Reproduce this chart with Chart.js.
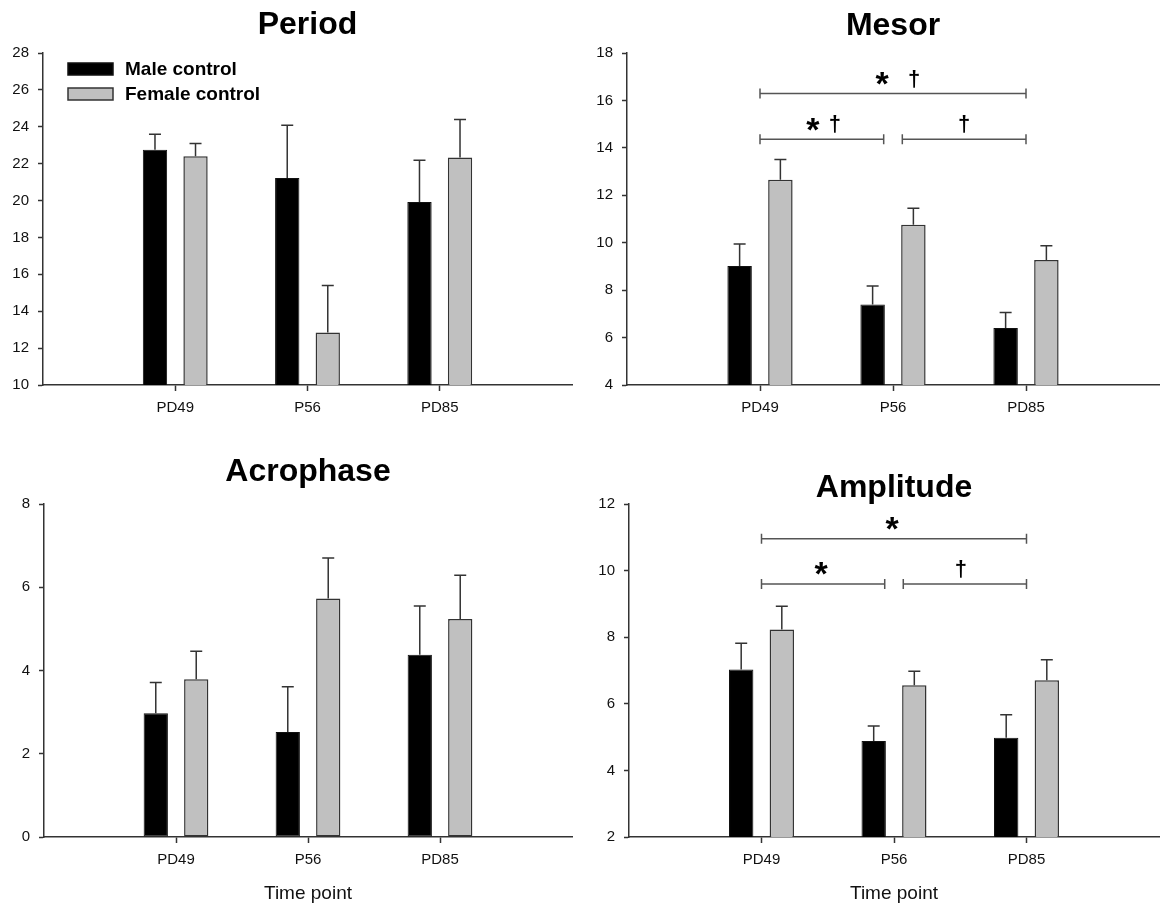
<!DOCTYPE html>
<html>
<head>
<meta charset="utf-8">
<script src="https://cdn.jsdelivr.net/npm/chart.js@4.4.1/dist/chart.umd.min.js"></script>
<style>
  html, body { margin: 0; padding: 0; background: #fff; }
  #wrap { position: relative; width: 1167px; height: 908px; }
  .panel { position: absolute; }
</style>
</head>
<body>
<div id="wrap">
  <div class="panel" style="left:0;top:0;width:580px;height:450px"><canvas id="period"></canvas></div>
  <div class="panel" style="left:580px;top:0;width:587px;height:450px"><canvas id="mesor"></canvas></div>
  <div class="panel" style="left:0;top:450px;width:580px;height:458px"><canvas id="acrophase"></canvas></div>
  <div class="panel" style="left:580px;top:450px;width:587px;height:458px"><canvas id="amplitude"></canvas></div>
</div>
<script>
// categories and series
const timePoints = ["PD49", "P56", "PD85"];
const seriesNames = ["Male control", "Female control"];

// values (mean) and upper error bars
const periodMale = [22.76, 21.22, 19.92];
const periodMaleErr = [0.83, 2.86, 2.26];
const periodFemale = [22.4, 12.85, 22.34];
const periodFemaleErr = [0.7, 2.55, 2.06];

const mesorMale = [9.02, 7.39, 6.4];
const mesorMaleErr = [0.93, 0.78, 0.66];
const mesorFemale = [12.65, 10.76, 9.27];
const mesorFemaleErr = [0.86, 0.69, 0.6];

const acroMale = [2.97, 2.52, 4.38];
const acroMaleErr = [0.74, 1.09, 1.17];
const acroFemale = [3.79, 5.73, 5.24];
const acroFemaleErr = [0.67, 0.97, 1.05];

const ampMale = [7.03, 4.88, 4.98];
const ampMaleErr = [0.79, 0.45, 0.69];
const ampFemale = [8.23, 6.56, 6.71];
const ampFemaleErr = [0.7, 0.42, 0.61];

// y axis ranges [min, max, step]
const periodRange = [10, 28, 2];
const mesorRange = [4, 18, 2];
const acroRange = [0, 8, 2];
const ampRange = [2, 12, 2];

// significance brackets (category index 1..3 = PD49..PD85)
const mesorSig = [
  { from: 1, to: 3, level: 16.29, marks: ["*", "\u2020"], dx: [-11, 21] },
  { from: 1, to: 1.93, level: 14.36, marks: ["*", "\u2020"], dx: [-9, 13] },
  { from: 2.07, to: 3, level: 14.36, marks: ["\u2020"], dx: [0] }
];
const ampSig = [
  { from: 1, to: 3, level: 10.96, marks: ["*"], dx: [-2] },
  { from: 1, to: 1.93, level: 9.6, marks: ["*"], dx: [-2] },
  { from: 2.07, to: 3, level: 9.6, marks: ["\u2020"], dx: [-4] }
];

const FONT = "'Liberation Sans', Arial, sans-serif";
Chart.defaults.font.family = FONT;
Chart.defaults.color = "#111";

// pad with empty slots so the three time points sit at 1/4, 2/4, 3/4 of the axis
function pad(arr) {
  return [null, ...arr, null];
}

const errorBars = {
  id: "errorBars",
  afterDatasetsDraw(chart) {
    const { ctx } = chart;
    const y = chart.scales.y;
    ctx.save();
    ctx.strokeStyle = "#333";
    ctx.lineWidth = 1.5;
    chart.data.datasets.forEach((ds, i) => {
      chart.getDatasetMeta(i).data.forEach((bar, j) => {
        const v = ds.data[j];
        if (v == null) return;
        const yTop = y.getPixelForValue(v + ds.errors[j]);
        ctx.beginPath();
        ctx.moveTo(bar.x, bar.y);
        ctx.lineTo(bar.x, yTop);
        ctx.moveTo(bar.x - 6, yTop);
        ctx.lineTo(bar.x + 6, yTop);
        ctx.stroke();
      });
    });
    ctx.restore();
  }
};

const brackets = {
  id: "brackets",
  afterDraw(chart, args, opts) {
    const items = opts.items || [];
    if (!items.length) return;
    const { ctx } = chart;
    const x = chart.scales.x, y = chart.scales.y;
    ctx.save();
    items.forEach(b => {
      const x1 = x.getPixelForValue(b.from);
      const x2 = x.getPixelForValue(b.to);
      const yy = y.getPixelForValue(b.level);
      ctx.strokeStyle = "#555";
      ctx.lineWidth = 1.5;
      ctx.beginPath();
      ctx.moveTo(x1, yy); ctx.lineTo(x2, yy);
      ctx.moveTo(x1, yy - 5); ctx.lineTo(x1, yy + 5);
      ctx.moveTo(x2, yy - 5); ctx.lineTo(x2, yy + 5);
      ctx.stroke();
      const cx = (x1 + x2) / 2;
      b.marks.forEach((m, k) => {
        ctx.font = m === "*" ? "bold 34px " + FONT : "bold 22px " + FONT;
        const tm = ctx.measureText(m);
        const base = yy - 15 + (tm.actualBoundingBoxAscent - tm.actualBoundingBoxDescent) / 2;
        ctx.fillStyle = "#000";
        ctx.textAlign = "center";
        ctx.textBaseline = "alphabetic";
        ctx.fillText(m, cx + b.dx[k], base);
      });
    });
    ctx.restore();
  }
};

const boxLegend = {
  id: "boxLegend",
  afterDraw(chart, args, opts) {
    if (!opts.show) return;
    const { ctx, chartArea } = chart;
    ctx.save();
    chart.data.datasets.forEach((ds, i) => {
      const bx = chartArea.left + 25;
      const by = chartArea.top + 10 + i * 25;
      ctx.fillStyle = ds.backgroundColor;
      ctx.fillRect(bx, by, 45, 12);
      ctx.strokeStyle = ds.borderColor;
      ctx.lineWidth = 1.5;
      ctx.strokeRect(bx, by, 45, 12);
      ctx.fillStyle = "#000";
      ctx.font = "bold 19px " + FONT;
      ctx.textAlign = "left";
      ctx.textBaseline = "middle";
      ctx.fillText(ds.label, chartArea.left + 82, by + 7);
    });
    ctx.restore();
  }
};

function makeChart(id, cfg) {
  const ctx = document.getElementById(id).getContext("2d");
  const endTick = c => (c.index === 0 || c.index === timePoints.length + 1) ? "rgba(0,0,0,0)" : "#333";
  return new Chart(ctx, {
    type: "bar",
    data: {
      labels: ["", ...timePoints, ""],
      datasets: [
        {
          label: seriesNames[0],
          data: pad(cfg.male),
          errors: pad(cfg.maleErr),
          backgroundColor: "#000",
          borderColor: "#111",
          borderWidth: 1,
          borderSkipped: false
        },
        {
          label: seriesNames[1],
          data: pad(cfg.female),
          errors: pad(cfg.femaleErr),
          backgroundColor: "#c0c0c0",
          borderColor: "#333",
          borderWidth: 1.5,
          borderSkipped: false
        }
      ]
    },
    options: {
      responsive: true,
      maintainAspectRatio: false,
      animation: false,
      datasets: { bar: { categoryPercentage: 0.613, barPercentage: 0.6 } },
      layout: { padding: { left: 0, right: 2, top: 0, bottom: 0 } },
      scales: {
        x: {
          offset: false,
          grid: { offset: false, drawOnChartArea: false, tickLength: 6, tickColor: endTick, tickWidth: 1.5 },
          border: { color: "#333", width: 1.5 },
          ticks: { font: { size: 15 }, padding: 8, autoSkip: false, maxRotation: 0, color: "#111" },
          title: {
            display: !!cfg.xTitle,
            text: "Time point",
            font: { size: 19 },
            color: "#111",
            padding: { top: 0, bottom: 3 }
          },
          afterFit: s => { s.height = cfg.xH; }
        },
        y: {
          min: cfg.range[0],
          max: cfg.range[1],
          ticks: { stepSize: cfg.range[2], font: { size: 15 }, padding: 9, color: "#111" },
          grid: { drawOnChartArea: false, tickLength: 5, tickColor: "#333", tickWidth: 1.5 },
          border: { color: "#333", width: 1.5 },
          afterFit: s => { s.width = cfg.axisW; }
        }
      },
      plugins: {
        legend: { display: false },
        tooltip: { enabled: false },
        title: {
          display: true,
          text: cfg.title,
          fullSize: false,
          color: "#000",
          font: { size: 32, weight: "bold", lineHeight: 1 },
          padding: { top: cfg.tTop, bottom: cfg.tBottom }
        },
        brackets: { items: cfg.sig || [] },
        boxLegend: { show: !!cfg.legend }
      }
    },
    plugins: [errorBars, brackets, boxLegend]
  });
}

makeChart("period", {
  title: "Period", male: periodMale, maleErr: periodMaleErr,
  female: periodFemale, femaleErr: periodFemaleErr, range: periodRange,
  axisW: 43, xH: 65, tTop: 9, tBottom: 12, legend: true
});
makeChart("mesor", {
  title: "Mesor", male: mesorMale, maleErr: mesorMaleErr,
  female: mesorFemale, femaleErr: mesorFemaleErr, range: mesorRange,
  axisW: 47, xH: 65, tTop: 10, tBottom: 11, sig: mesorSig
});
makeChart("acrophase", {
  title: "Acrophase", male: acroMale, maleErr: acroMaleErr,
  female: acroFemale, femaleErr: acroFemaleErr, range: acroRange,
  axisW: 44, xH: 71, tTop: 6, tBottom: 16, xTitle: true
});
makeChart("amplitude", {
  title: "Amplitude", male: ampMale, maleErr: ampMaleErr,
  female: ampFemale, femaleErr: ampFemaleErr, range: ampRange,
  axisW: 49, xH: 71, tTop: 22, tBottom: 0, xTitle: true, sig: ampSig
});
</script>
</body>
</html>
